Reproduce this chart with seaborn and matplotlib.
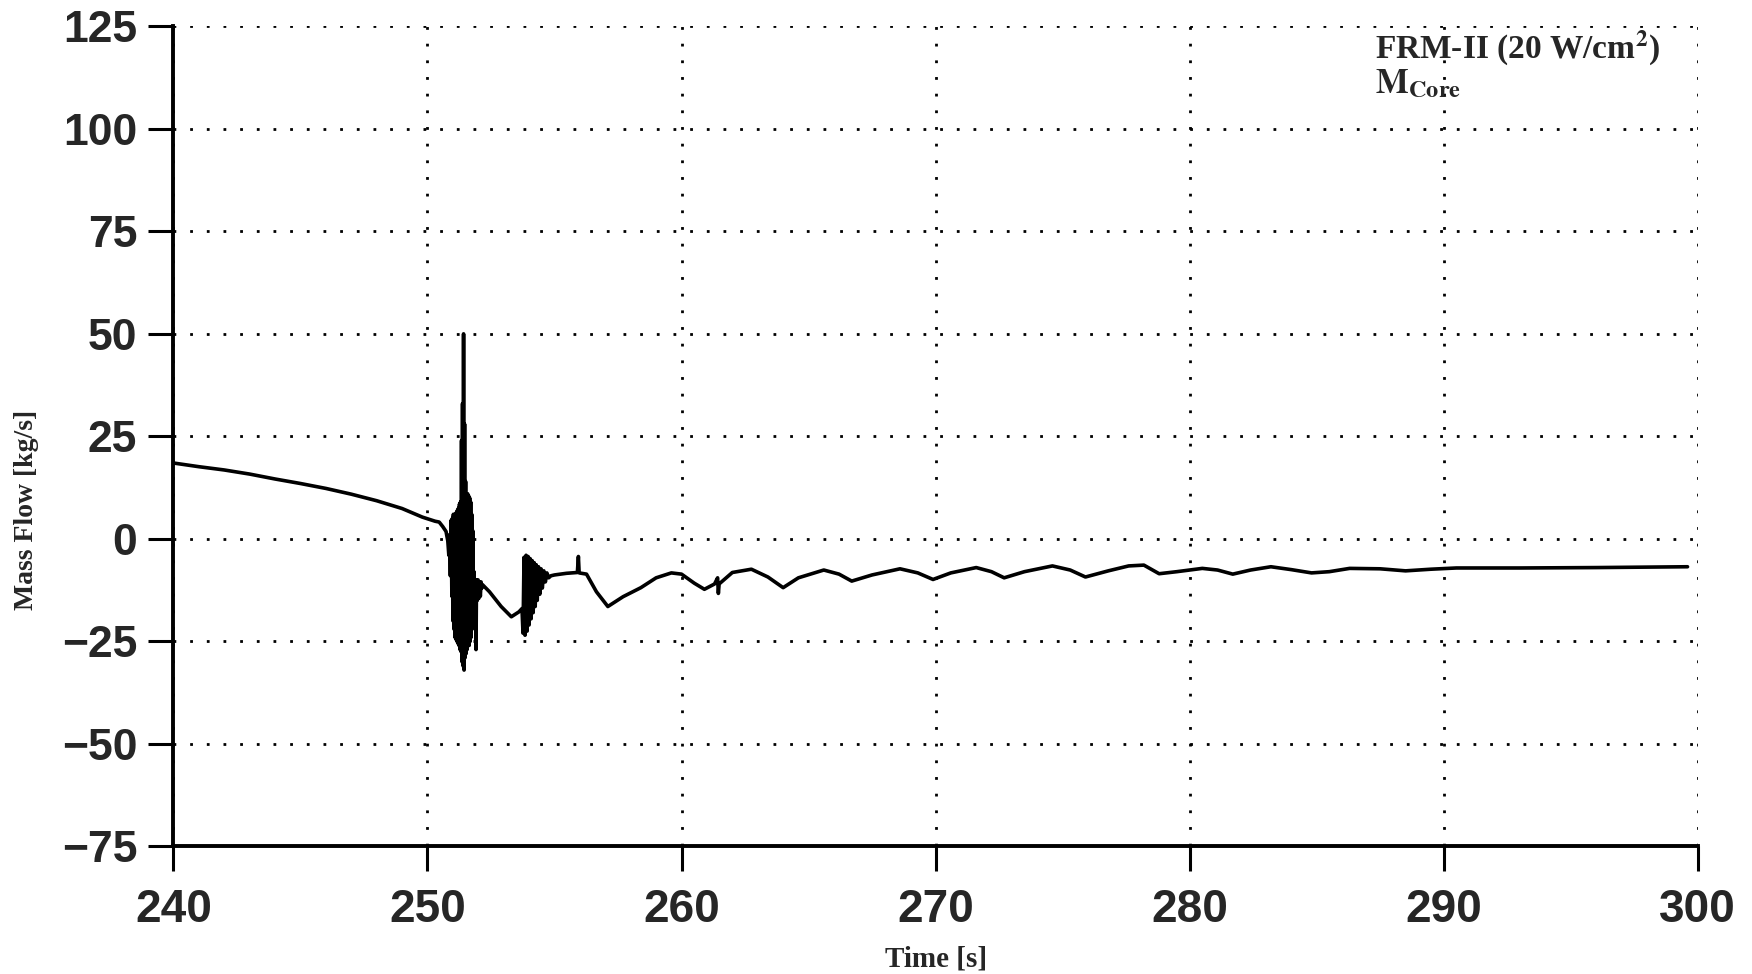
import numpy as np
import pandas as pd
import matplotlib
matplotlib.use("Agg")
import matplotlib.pyplot as plt
import seaborn as sns

# --- core mass flow trace, FRM-II at 20 W/cm2 -------------------------------
# smooth decline before flow reversal
t_decline = [240.0, 241.0, 242.0, 243.0, 244.0, 245.0, 246.0, 247.0, 248.0,
             249.0, 249.8, 250.3, 250.46, 250.6, 250.73]
m_decline = [18.5, 17.6, 16.8, 15.8, 14.6, 13.5, 12.3, 10.9, 9.3,
             7.4, 5.3, 4.3, 4.1, 3.0, 1.8]

# first burst of oscillations around 251 s
t_burst1 = [250.80, 250.84, 250.87, 250.90, 250.93, 250.96, 250.98, 251.00,
            251.02, 251.04, 251.06, 251.08, 251.10, 251.12, 251.14, 251.16,
            251.18, 251.20, 251.22, 251.24, 251.26, 251.28, 251.30, 251.32,
            251.34, 251.36, 251.38, 251.40, 251.42, 251.44, 251.46, 251.48,
            251.50, 251.52, 251.54, 251.56, 251.58, 251.60, 251.62, 251.64,
            251.66, 251.68, 251.70, 251.72, 251.74, 251.76, 251.78, 251.80,
            251.83, 251.86, 251.89, 251.91, 251.93, 251.96, 251.99, 252.02,
            252.05, 252.08, 252.11, 252.14]
m_burst1 = [-0.5, -4.0, 1.0, -9.0, 4.5, -14.0, 5.0, -20.0,
            6.0, -22.0, 5.5, -24.0, 6.0, -24.5, 6.5, -25.0,
            7.0, -25.5, 7.5, -26.0, 8.5, -27.0, 9.0, -27.5,
            24.0, -30.0, 33.0, -31.0, 50.0, -32.0, 28.0, -29.0,
            14.0, -28.0, 11.0, -27.0, 11.0, -26.0, 10.5, -26.0,
            10.0, -25.0, 9.0, -24.0, 6.0, -22.0, 2.0, -18.0,
            -8.0, -14.0, -10.0, -27.0, -10.0, -15.0, -10.0, -14.5,
            -10.5, -14.0, -10.5, -12.0]

# recovery dip between the bursts
t_dip = [252.17, 252.44, 252.90, 253.30, 253.60, 253.72]
m_dip = [-11.2, -12.9, -16.5, -19.0, -17.8, -17.0]

# second, decaying burst around 254 s
t_burst2 = [253.76, 253.80, 253.84, 253.88, 253.92, 253.96, 254.00, 254.04,
            254.08, 254.12, 254.16, 254.20, 254.24, 254.28, 254.32, 254.37,
            254.42, 254.47, 254.52, 254.58, 254.64, 254.70, 254.77, 254.86]
m_burst2 = [-23.0, -4.5, -23.5, -4.0, -22.5, -4.3, -21.0, -4.8,
            -19.5, -5.3, -18.0, -5.8, -16.5, -6.3, -15.0, -6.8,
            -13.5, -7.3, -12.0, -7.8, -10.5, -8.3, -9.5, -9.0]

# slow damped swings settling towards a small negative flow
t_tail = [255.00, 255.47, 255.90, 255.94, 255.97, 256.26, 256.65, 257.10,
          257.70, 258.40, 259.00, 259.60, 260.00, 260.50, 260.90, 261.30,
          261.42, 261.45, 261.48, 262.00, 262.75, 263.40, 264.00, 264.60,
          265.60, 266.20, 266.70, 267.50, 268.60, 269.30, 269.90, 270.60,
          271.60, 272.20, 272.70, 273.50, 274.60, 275.30, 275.90, 276.80,
          277.60, 278.20, 278.80, 279.50, 280.50, 281.10, 281.70, 282.40,
          283.20, 284.00, 284.80, 285.50, 286.30, 287.50, 288.50, 289.50,
          290.50, 293.00, 296.00, 299.60]
m_tail = [-8.8, -8.4, -8.2, -4.3, -8.3, -8.6, -12.9, -16.5,
          -14.1, -11.9, -9.5, -8.3, -8.6, -10.8, -12.3, -11.0,
          -9.5, -13.3, -11.0, -8.2, -7.4, -9.3, -11.9, -9.5,
          -7.6, -8.6, -10.3, -8.8, -7.3, -8.3, -9.9, -8.3,
          -7.0, -8.0, -9.5, -8.0, -6.6, -7.6, -9.3, -7.8,
          -6.6, -6.4, -8.5, -8.0, -7.2, -7.6, -8.6, -7.6,
          -6.8, -7.5, -8.3, -8.0, -7.2, -7.3, -7.8, -7.4,
          -7.1, -7.1, -7.0, -6.8]

x_ticks = [240, 250, 260, 270, 280, 290, 300]
y_ticks = [-75, -50, -25, 0, 25, 50, 75, 100, 125]

df = pd.DataFrame({
    "time": t_decline + t_burst1 + t_dip + t_burst2 + t_tail,
    "flow": m_decline + m_burst1 + m_dip + m_burst2 + m_tail,
})

sns.set_theme(style="white")
plt.rcParams["mathtext.fontset"] = "stix"

fig = plt.figure(figsize=(17.52, 9.74), dpi=100)
ax = fig.add_axes([0.099, 0.131, 0.870, 0.842])

sns.lineplot(data=df, x="time", y="flow", sort=False, estimator=None,
             color="black", linewidth=2.6, ax=ax)

ax.set_xlim(240, 300)
ax.set_ylim(-75, 125)
ax.set_xticks(x_ticks)
ax.set_yticks(y_ticks)

# dotted grid, also closing the box on top and right
dot = (0, (1, 5))
ax.grid(True, color="black", linestyle=dot, linewidth=2.0)
ax.set_axisbelow(True)
for side in ("top", "right"):
    ax.spines[side].set_visible(False)
for side in ("left", "bottom"):
    ax.spines[side].set_visible(True)
    ax.spines[side].set_color("black")
    ax.spines[side].set_linewidth(2.8)

ax.tick_params(axis="both", which="major", direction="out", color="black",
               width=2.2, length=18, bottom=True, left=True)
ax.tick_params(axis="y", pad=8)
ax.tick_params(axis="x", pad=12)

for lab in ax.get_yticklabels():
    lab.set_fontfamily(["Liberation Sans", "DejaVu Sans"])
    lab.set_fontweight("bold")
    lab.set_fontsize(32)
ax.set_xticklabels([str(v) for v in x_ticks])
for lab in ax.get_xticklabels():
    lab.set_fontfamily(["Liberation Sans", "DejaVu Sans"])
    lab.set_fontweight("bold")
    lab.set_fontsize(33)

ax.set_xlabel("Time [s]", fontfamily="Liberation Serif", fontweight="bold",
              fontsize=21, labelpad=10)
ax.set_ylabel("Mass Flow [kg/s]", fontfamily="Liberation Serif",
              fontweight="bold", fontsize=20)
ax.yaxis.set_label_coords(-0.088, 0.41)

ax.text(0.788, 0.960, r"FRM-II (20 W/cm$^{\mathbf{2}}$)", transform=ax.transAxes,
        fontfamily="Liberation Serif", fontweight="bold", fontsize=24,
        ha="left", va="baseline")
ax.text(0.788, 0.918, r"$\mathbf{M}_{\mathbf{Core}}$", transform=ax.transAxes,
        fontsize=25, ha="left", va="baseline")

fig.savefig("out.png", dpi=100, facecolor="white")
